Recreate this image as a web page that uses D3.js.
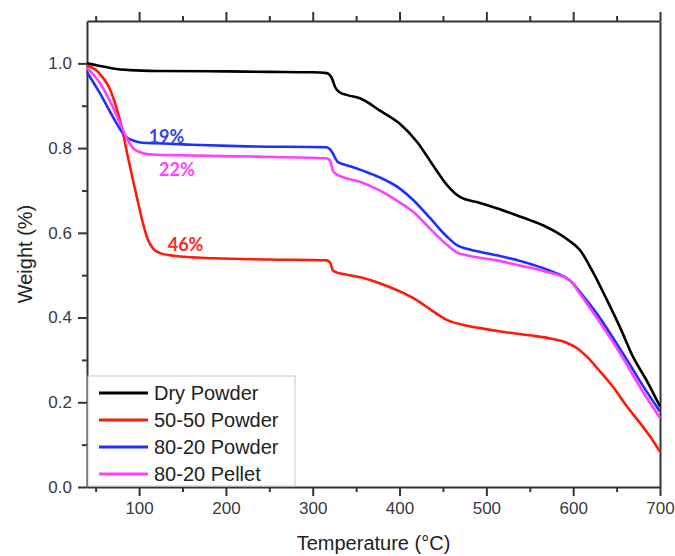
<!DOCTYPE html>
<html>
<head>
<meta charset="utf-8">
<script src="https://cdn.jsdelivr.net/npm/d3@7"></script>
<style>
  body { margin: 0; background: #fff; }
  svg { display: block; font-family: "Liberation Sans", Arial, sans-serif; }
</style>
</head>
<body>
<svg id="chart"></svg>
<script>
// Temperatures (°C) and weight fractions
const dryT = [40, 55, 70, 90, 120, 200, 250, 300, 316, 322, 326, 331, 340, 355, 377, 400, 420, 440, 455, 470, 490, 512, 530, 550, 568, 581, 595, 608, 622, 639, 655, 669, 685, 700];
const dryW = [1.0, 0.994, 0.988, 0.984, 0.982, 0.981, 0.98, 0.979, 0.977, 0.965, 0.943, 0.932, 0.925, 0.917, 0.889, 0.858, 0.815, 0.755, 0.712, 0.684, 0.672, 0.658, 0.645, 0.630, 0.615, 0.601, 0.582, 0.559, 0.51, 0.441, 0.372, 0.307, 0.25, 0.19];

const p5050T = [40, 50, 58, 65, 70, 76, 81.5, 87, 93, 99, 104.5, 110, 116, 124, 140, 185, 250, 316, 320, 323, 328, 335, 355, 377, 400, 416, 435, 455, 475, 493, 520, 550, 575, 593, 605, 616, 630, 646, 662, 677, 690, 700];
const p5050W = [0.995, 0.985, 0.967, 0.945, 0.92, 0.88, 0.835, 0.78, 0.724, 0.67, 0.622, 0.585, 0.563, 0.552, 0.546, 0.540, 0.537, 0.535, 0.53, 0.512, 0.506, 0.503, 0.495, 0.481, 0.462, 0.446, 0.42, 0.394, 0.382, 0.375, 0.366, 0.358, 0.35, 0.340, 0.327, 0.307, 0.275, 0.236, 0.19, 0.151, 0.115, 0.083];

const p8020T = [40, 55, 70, 81.5, 88, 93, 100, 110, 127, 160, 224, 316, 320, 323, 326, 329, 335, 343, 360, 377, 400, 416, 435, 455, 466, 480, 512, 540, 562, 580, 596, 610, 627, 645, 662, 680, 700];
const p8020W = [0.979, 0.929, 0.873, 0.835, 0.822, 0.818, 0.814, 0.812, 0.811, 0.808, 0.804, 0.802, 0.797, 0.788, 0.776, 0.767, 0.762, 0.757, 0.745, 0.731, 0.705, 0.677, 0.635, 0.590, 0.571, 0.561, 0.547, 0.533, 0.519, 0.505, 0.488, 0.455, 0.41, 0.355, 0.30, 0.24, 0.178];

const pelT = [40, 55, 70, 81.5, 88, 93, 99, 104.5, 115, 147, 230, 316, 320, 323, 326, 329, 335, 355, 377, 400, 416, 435, 455, 466, 480, 512, 540, 562, 580, 596, 610, 627, 645, 662, 680, 700];
const pelW = [0.99, 0.953, 0.896, 0.842, 0.815, 0.80, 0.792, 0.788, 0.785, 0.783, 0.780, 0.776, 0.770, 0.748, 0.740, 0.736, 0.731, 0.72, 0.70, 0.672, 0.649, 0.61, 0.571, 0.554, 0.546, 0.535, 0.522, 0.512, 0.502, 0.488, 0.45, 0.40, 0.345, 0.288, 0.226, 0.163];

const seriesNames = ["Dry Powder", "50-50 Powder", "80-20 Powder", "80-20 Pellet"];
const seriesColors = ["#000000", "#ff1a0a", "#1f2fff", "#ff40ff"];

// mass loss labels
const lossLabels = ["19%", "22%", "46%"];
const lossT = [111, 123, 133];
const lossW = [0.813, 0.733, 0.558];
const lossColors = ["#3344ee", "#ff44ff", "#ff2a1a"];

const xMajor = [100, 200, 300, 400, 500, 600, 700];
const xMinor = [50, 150, 250, 350, 450, 550, 650];
const yMajor = [0.0, 0.2, 0.4, 0.6, 0.8, 1.0];
const yMinor = [0.1, 0.3, 0.5, 0.7, 0.9];

const width = 675, height = 556;
const margin = { top: 21, right: 15, bottom: 69, left: 87 };

const svg = d3.select("#chart")
    .attr("width", width)
    .attr("height", height);

const x = d3.scaleLinear()
    .domain([40, 700])
    .range([margin.left, width - margin.right]);

const y = d3.scaleLinear()
    .domain([0, 1.1])
    .range([height - margin.bottom, margin.top]);

const axisColor = "#333";

function styleAxis(g) {
    g.select(".domain").attr("stroke", axisColor).attr("stroke-width", 2);
    g.selectAll(".tick line").attr("stroke", axisColor).attr("stroke-width", 2);
    g.selectAll(".tick text").attr("fill", "#3a3a3a").attr("font-size", "17px");
}

// bottom axis
svg.append("g")
    .attr("transform", `translate(0,${height - margin.bottom})`)
    .call(d3.axisBottom(x).tickValues(xMajor).tickFormat(d3.format("d")).tickSizeInner(9).tickSizeOuter(0).tickPadding(6))
    .call(styleAxis);
svg.append("g")
    .attr("transform", `translate(0,${height - margin.bottom})`)
    .call(d3.axisBottom(x).tickValues(xMinor).tickFormat("").tickSizeInner(5).tickSizeOuter(0))
    .call(styleAxis)
    .select(".domain").remove();

// top axis (ticks only)
svg.append("g")
    .attr("transform", `translate(0,${margin.top})`)
    .call(d3.axisTop(x).tickValues(xMajor).tickFormat("").tickSizeInner(9).tickSizeOuter(0))
    .call(styleAxis);
svg.append("g")
    .attr("transform", `translate(0,${margin.top})`)
    .call(d3.axisTop(x).tickValues(xMinor).tickFormat("").tickSizeInner(5).tickSizeOuter(0))
    .call(styleAxis)
    .select(".domain").remove();

// left axis
svg.append("g")
    .attr("transform", `translate(${margin.left},0)`)
    .call(d3.axisLeft(y).tickValues(yMajor).tickFormat(d3.format(".1f")).tickSizeInner(9).tickSizeOuter(0).tickPadding(6))
    .call(styleAxis);
svg.append("g")
    .attr("transform", `translate(${margin.left},0)`)
    .call(d3.axisLeft(y).tickValues(yMinor).tickFormat("").tickSizeInner(5).tickSizeOuter(0))
    .call(styleAxis)
    .select(".domain").remove();

// right axis (line only)
svg.append("g")
    .attr("transform", `translate(${width - margin.right},0)`)
    .call(d3.axisRight(y).tickValues([]).tickSizeOuter(0))
    .call(styleAxis);

// curves
const line = d3.line()
    .x(d => x(d[0]))
    .y(d => y(d[1]))
    .curve(d3.curveMonotoneX);

const allT = [dryT, p5050T, p8020T, pelT];
const allW = [dryW, p5050W, p8020W, pelW];

svg.append("g")
    .selectAll("path")
    .data(allT.map((ts, i) => ts.map((t, j) => [t, allW[i][j]])))
    .enter().append("path")
    .attr("d", line)
    .attr("fill", "none")
    .attr("stroke", (d, i) => seriesColors[i])
    .attr("stroke-width", 2.6)
    .attr("stroke-linejoin", "round");

// mass loss annotations
svg.append("g")
    .selectAll("text")
    .data(lossLabels)
    .enter().append("text")
    .attr("x", (d, i) => x(lossT[i]))
    .attr("y", (d, i) => y(lossW[i]))
    .attr("fill", (d, i) => lossColors[i])
    .attr("font-family", "Lato, 'Open Sans', sans-serif")
    .attr("font-weight", "bold")
    .attr("font-size", "18px")
    .text(d => d);

// legend
const legend = svg.append("g");
legend.append("rect")
    .attr("x", margin.left + 1)
    .attr("y", 376)
    .attr("width", 207)
    .attr("height", height - margin.bottom - 376 - 1)
    .attr("fill", "#fff")
    .attr("stroke", "#c8c8c8")
    .attr("stroke-width", 1);

const legendRows = legend.selectAll(".row")
    .data(seriesNames)
    .enter().append("g")
    .attr("class", "row")
    .attr("transform", (d, i) => `translate(0,${393 + i * 27})`);

legendRows.append("line")
    .attr("x1", 99).attr("x2", 148)
    .attr("stroke", (d, i) => seriesColors[i])
    .attr("stroke-width", 3);

legendRows.append("text")
    .attr("x", 154)
    .attr("dy", "0.36em")
    .attr("font-size", "20px")
    .attr("fill", "#222")
    .text(d => d);

// axis titles
svg.append("text")
    .attr("x", (margin.left + width - margin.right) / 2)
    .attr("y", 550)
    .attr("text-anchor", "middle")
    .attr("font-size", "20px")
    .attr("fill", "#222")
    .text("Temperature (°C)");

svg.append("text")
    .attr("transform", `translate(32,${(margin.top + height - margin.bottom) / 2}) rotate(-90)`)
    .attr("text-anchor", "middle")
    .attr("font-size", "20px")
    .attr("fill", "#222")
    .text("Weight (%)");
</script>
</body>
</html>
